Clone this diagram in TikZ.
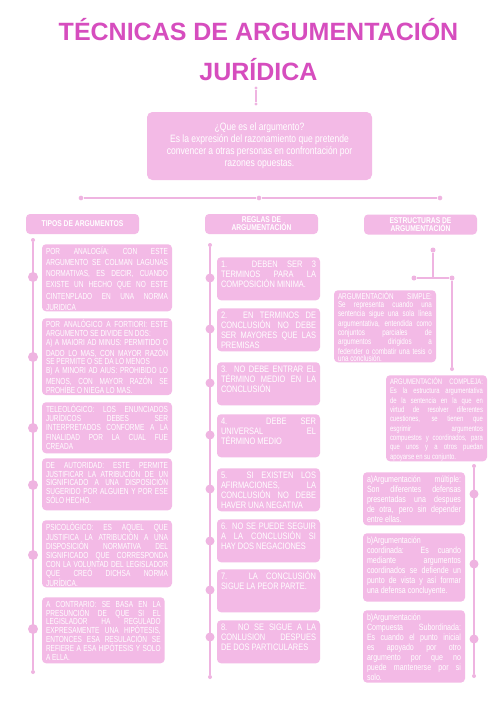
\documentclass[tikz,border=0pt]{standalone}
\usepackage{fontspec}
\setmainfont{Liberation Sans}
\newfontfamily\titelfont{Liberation Sans}
\newfontfamily\schmalfont{Liberation Sans}[FakeStretch=0.8]
\newfontfamily\engfont{Liberation Sans}[FakeStretch=0.74]
\newfontfamily\mittelfont{Liberation Sans}[FakeStretch=0.78]
\hyphenpenalty=10000
\exhyphenpenalty=10000
\tolerance=9999
\hbadness=10000
\hfuzz=4pt

\definecolor{rosa}{HTML}{F3BAE6}
\definecolor{rosalinie}{HTML}{EFB4E1}
\definecolor{titelrosa}{HTML}{D64DBE}

\tikzset{
	linie/.style={
		draw=rosalinie,
		line width=1.5pt
	},
	punkt/.style={
		circle,
		fill=rosalinie,
		inner sep=0pt,
		minimum size=#1
	},
	punkt/.default=3pt,
	kopf/.style={
		rounded corners=3pt,
		fill=rosa,
		text=white,
		minimum width=84.75pt,
		minimum height=15pt,
		inner sep=0pt,
		align=center,
		font=\schmalfont\bfseries\fontsize{6.3pt}{6pt}\selectfont
	},
	karte/.style={
		rounded corners=3pt,
		fill=rosa,
		text=white,
		anchor=north,
		align=justify,
		inner xsep=3pt,
		inner ysep=2.5pt,
		text height=5.5pt
	},
	linkskarte/.style={
		karte,
		text width=91.5pt,
		text height=5pt,
		font=\engfont\fontsize{6.6pt}{6.6pt}\selectfont
	},
	mittekarte/.style={
		karte,
		text width=71.25pt,
		text depth=21.75pt,
		font=\schmalfont\fontsize{7pt}{7.5pt}\selectfont
	},
	rechtskarte/.style={
		karte,
		text width=70.5pt,
		font=\mittelfont\fontsize{6.8pt}{7.5pt}\selectfont
	},
	kleinkarte/.style={
		karte,
		text height=4.5pt,
		font=\engfont\fontsize{6.4pt}{5.9pt}\selectfont
	}
}

\begin{document}
\begin{tikzpicture}[
	x=0.75pt,
	y=-0.75pt
]
	\useasboundingbox[fill=white] (0,0) rectangle (500,708);
	% Titel
	\node[
		align=center,
		text=titelrosa,
		font=\titelfont\bfseries\fontsize{18.75pt}{30pt}\selectfont
	] (titel) at (258.5,49.5) {TÉCNICAS DE ARGUMENTACIÓN\\JURÍDICA};
	% Verbindung Titel
	\node[punkt=2.5pt] (t1) at (256,88) {};
	\node[punkt=2.5pt] (t2) at (256,104) {};
	\draw[
		linie,
		line width=1pt
	] (t1) -- (t2);
	% Frage
	\node[
		rounded corners=4pt,
		fill=rosa,
		text=white,
		minimum width=168.75pt,
		minimum height=51pt,
		align=center,
		font=\schmalfont\fontsize{8pt}{9pt}\selectfont
	] (frage) at (259.5,146) {¿Que es el argumento?\\Es la expresión del razonamiento que pretende\\convencer a otras personas en confrontación por\\razones opuestas.};
	% Hauptlinie
	\node[punkt=3.5pt] (h1) at (81,198) {};
	\node[punkt=3.5pt] (h2) at (259,198) {};
	\node[punkt=3.5pt] (h3) at (440,198) {};
	\draw[linie] (h1) -- (h2) -- (h3);
	% Kopfzeilen
	\node[kopf] (tipos) at (82.5,224) {TIPOS DE ARGUMENTOS};
	\node[kopf] (reglas) at (261.5,224) {REGLAS DE\\ARGUMENTACIÓN};
	\node[kopf] (estructuras) at (420.5,224.5) {ESTRUCTURAS DE\\ARGUMENTACIÓN};

	% Linie links
	\node[punkt] (l0) at (33,240) {};
	\node[punkt] (lende) at (33,672) {};
	\draw[linie] (l0) -- (lende);
	\node[punkt=7.5pt] (lp1) at (33,277) {};
	\node[punkt=7.5pt] (lp2) at (33,357) {};
	\node[punkt=7.5pt] (lp3) at (33,428) {};
	\node[punkt=7.5pt] (lp4) at (33,485) {};
	\node[punkt=7.5pt] (lp5) at (33,555) {};
	\node[punkt=7.5pt] (lp6) at (33,629) {};
	% Tipos
	\node[
		linkskarte,
		font=\engfont\fontsize{6.6pt}{8.4pt}\selectfont,
		text depth=40.25pt
	] (analogia) at (107,244) {POR ANALOGÍA: CON ESTE\linebreak ARGUMENTO SE COLMAN LAGUNAS\linebreak NORMATIVAS, ES DECIR, CUANDO\linebreak EXISTE UN HECHO QUE NO ESTE\linebreak CINTENPLADO EN UNA NORMA\linebreak JURIDICA};
	\node[
		linkskarte,
		text height=4.6pt,
		font=\engfont\fontsize{6.6pt}{6.6pt}\selectfont,
		text depth=48pt
	] (fortiori) at (107,318) {POR ANALÓGICO A FORTIORI: ESTE\linebreak ARGUMENTO SE DIVIDE EN DOS:\newline A) A MAIORI AD MINUS: PERMITIDO O\linebreak DADO LO MAS, CON MAYOR RAZÓN\linebreak SE PERMITE O SE DA LO MENOS\newline B) A MINORI AD AIUS: PROHIBIDO LO\linebreak MENOS, CON MAYOR RAZÓN SE\linebreak PROHÍBE O NIEGA LO MAS.};
	\node[
		linkskarte,
		font=\engfont\fontsize{6.6pt}{7pt}\selectfont,
		text depth=28.25pt
	] (teleologico) at (107,402) {TELEOLÓGICO: LOS ENUNCIADOS\linebreak JURÍDICOS DEBES SER\linebreak INTERPRETADOS CONFORME A LA\linebreak FINALIDAD POR LA CUAL FUE\linebreak CREADA};
	\node[
		linkskarte,
		text depth=29pt
	] (autoridad) at (107,458) {DE AUTORIDAD: ESTE PERMITE\linebreak JUSTIFICAR LA ATRIBUCIÓN DE UN\linebreak SIGNIFICADO A UNA DISPOSICIÓN\linebreak SUGERIDO POR ALGUIEN Y POR ESE\linebreak SÓLO HECHO.};
	\node[
		linkskarte,
		text depth=40.25pt
	] (psicologico) at (107,520) {PSICOLÓGICO: ES AQUEL QUE\linebreak JUSTIFICA LA ATRIBUCIÓN A UNA\linebreak DISPOSICIÓN NORMATIVA DEL\linebreak SIGNIFICADO QUE CORRESPONDA\linebreak CON LA VOLUNTAD DEL LEGISLADOR\linebreak QUE CREÓ DICHSA NORMA\linebreak JURÍDICA.};
	\node[
		linkskarte,
		text width=86pt,
		xshift=-2.75pt,
		text depth=39.5pt
	] (contrario) at (107,597) {A CONTRARIO: SE BASA EN LA\linebreak PRESUNCIÓN DE QUE SI EL\linebreak LEGISLADOR HA REGULADO\linebreak EXPRESAMENTE UNA HIPÓTESIS,\linebreak ENTONCES ESA RESULACIÓN SE\linebreak REFIERE A ESA HIPÓTESIS Y SOLO\linebreak A ELLA.};

	% Linie Mitte
	\node[punkt] (m0) at (210,245) {};
	\node[punkt] (mende) at (210,677) {};
	\draw[linie] (m0) -- (mende);
	\node[punkt=6.75pt] (mp1) at (210,278) {};
	\node[punkt=6.75pt] (mp2) at (210,329) {};
	\node[punkt=6.75pt] (mp3) at (210,383) {};
	\node[punkt=6.75pt] (mp4) at (210,435) {};
	\node[punkt=6.75pt] (mp5) at (210,489) {};
	\node[punkt=6.75pt] (mp6) at (210,541) {};
	\node[punkt=6.75pt] (mp7) at (210,590) {};
	\node[punkt=6.75pt] (mp8) at (210,637) {};
	% Reglas
	\node[mittekarte] (regla1) at (268.5,257) {1. DEBEN SER 3\linebreak TERMINOS PARA LA\linebreak COMPOSICIÓN MINIMA.};
	\node[mittekarte] (regla2) at (268.5,308) {2. EN TERMINOS DE\linebreak CONCLUSIÓN NO DEBE\linebreak SER MAYORES QUE LAS\linebreak PREMISAS};
	\node[mittekarte] (regla3) at (268.5,362) {3. NO DEBE ENTRAR EL\linebreak TÉRMINO MEDIO EN LA\linebreak CONCLUSIÓN};
	\node[mittekarte] (regla4) at (268.5,414) {4. DEBE SER\linebreak UNIVERSAL EL\linebreak TÉRMINO MEDIO};
	\node[mittekarte] (regla5) at (268.5,468) {5. SI EXISTEN LOS\linebreak AFIRMACIONES, LA\linebreak CONCLUSIÓN NO DEBE\linebreak HAVER UNA NEGATIVA};
	\node[mittekarte] (regla6) at (268.5,519) {6. NO SE PUEDE SEGUIR\linebreak A LA CONCLUSIÓN SI\linebreak HAY DOS NEGACIONES};
	\node[mittekarte] (regla7) at (268.5,569) {7. LA CONCLUSIÓN\linebreak SIGUE LA PEOR PARTE.};
	\node[mittekarte] (regla8) at (268.5,620) {8. NO SE SIGUE A LA\linebreak CONLUSION DESPUES\linebreak DE DOS PARTICULARES};

	% Verzweigung rechts
	\node[punkt=3.75pt] (r0) at (433,250) {};
	\coordinate (rk) at (433,278);
	\node[punkt=3.75pt] (r1) at (414,278) {};
	\node[punkt=3.75pt] (r2) at (452,278) {};
	\node[punkt] (r3) at (452,369) {};
	\draw[linie] (r0) -- (rk);
	\draw[linie] (r1) -- (r2);
	\draw[linie] (r2) -- (r3);
	% Estructuras
	\node[
		kleinkarte,
		text width=70.5pt,
		text depth=44.5pt
	] (simple) at (385,290) {ARGUMENTACIÓN SIMPLE:\linebreak Se representa cuando una\linebreak sentencia sigue una sola línea\linebreak argumentativa, entendida como\linebreak conjuntos parciales de\linebreak argumentos dirigidos a\linebreak fedender o combatir una tesis o\linebreak una conclusión.};
	\node[
		kleinkarte,
		font=\engfont\fontsize{6pt}{7pt}\selectfont,
		text width=69.75pt,
		text depth=55pt
	] (compleja) at (436.5,375) {ARGUMENTACIÓN COMPLEJA:\linebreak Es la estructura argumentativa\linebreak de la sentencia en la que en\linebreak virtud de resolver diferentes\linebreak cuestiones, se tienen que\linebreak esgrimir argumentos\linebreak compuestos y coordinados, para\linebreak que unos y a otros puedan\linebreak apoyarse en su conjunto.};
	% Linie rechts
	\node[punkt] (s0) at (474,466) {};
	\node[punkt] (sende) at (474,676) {};
	\draw[linie] (s0) -- (sende);
	\node[punkt=6.75pt] (sp1) at (474,494) {};
	\node[punkt=6.75pt] (sp2) at (474,564) {};
	\node[punkt=6.75pt] (sp3) at (474,639) {};
	\node[
		rechtskarte,
		text depth=29.25pt
	] (multiple) at (414,472) {a)Argumentación múltiple:\linebreak Son diferentes defensas\linebreak presentadas una despues\linebreak de otra, pero sin depender\linebreak entre ellas.};
	\node[
		rechtskarte,
		text depth=40.75pt
	] (coordinada) at (414,533) {b)Argumentación\newline coordinada: Es cuando\linebreak mediante argumentos\linebreak coordinados se defiende un\linebreak punto de vista y así formar\linebreak una defensa concluyente.};
	\node[
		rechtskarte,
		text depth=43.75pt
	] (subordinada) at (414,610) {b)Argumentación\newline Compuesta Subordinada:\linebreak Es cuando el punto inicial\linebreak es apoyado por otro\linebreak argumento por que no\linebreak puede mantenerse por si\linebreak solo.};

\end{tikzpicture}
\end{document}
